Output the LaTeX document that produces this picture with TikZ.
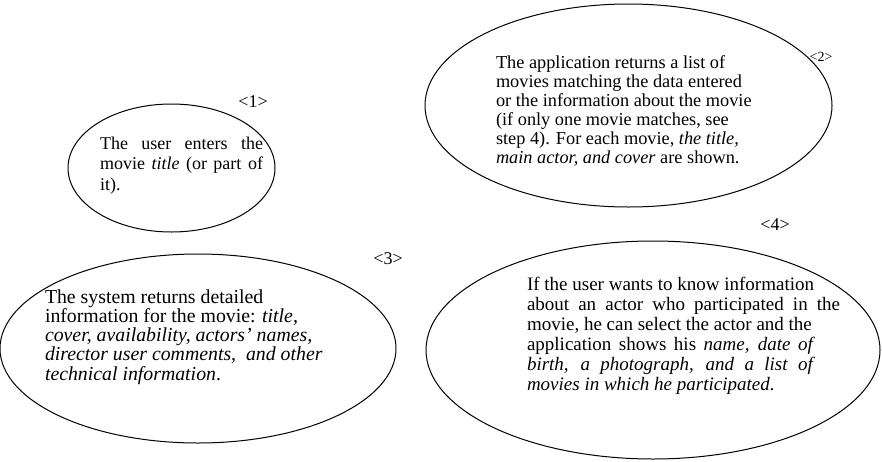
\documentclass[tikz,border=0pt]{standalone}
\usepackage{fontspec}
\setmainfont{Liberation Serif}
\usetikzlibrary{shapes.geometric}
\begin{document}
\begin{tikzpicture}[x=1pt,y=-1pt,
  ell/.style={draw=black, line width=1pt, ellipse, inner sep=0pt, outer sep=0pt},
  txt/.style={anchor=north west, inner sep=0pt, outer sep=0pt},
  lbl/.style={inner sep=0pt, font=\fontsize{18}{20}\selectfont}]
\useasboundingbox (0,0) rectangle (882,461);
% ellipses
\node[ell, minimum width=207pt, minimum height=128pt] (e1) at (171.5,168) {};
\node[ell, minimum width=407pt, minimum height=203pt] (e2) at (628.5,105.5) {};
\node[ell, minimum width=396pt, minimum height=189pt] (e3) at (198,348.5) {};
\node[ell, minimum width=454pt, minimum height=218pt] (e4) at (653,350) {};
% texts
\node[txt, text width=163pt, align=justify, font=\fontsize{18}{20.5}\selectfont] (t1) at (100,136.7)
  {The user enters the\linebreak movie \textit{title} (or part of\linebreak it).};
\node[txt, align=left, font=\fontsize{18.3}{19}\selectfont] (t2) at (496,55.5)
  {The application returns a list of\\
   movies matching the data entered\\
   or the information about the movie\\
   (if only one movie matches, see\\
   step 4). For each movie, \textit{the title,}\\
   \textit{main actor, and cover} are shown.};
\node[txt, align=left, font=\fontsize{19.8}{19.25}\selectfont] (t3) at (45,289.5)
  {The system returns detailed\\
   information for the movie: \textit{title,}\\
   \textit{cover, availability, actors' names,}\\
   \textit{director user comments,\ \ and other}\\
   \textit{technical information}.};
\node[txt, align=left, font=\fontsize{19}{20}\selectfont] (t4) at (527,277.5)
  {If the user wants to know information\\
   \makebox[313pt][s]{about an actor who participated in the}\\
   movie, he can select the actor and the\\
   \makebox[288pt][s]{application shows his \textit{name, date of}}\\
   \makebox[288pt][s]{\textit{birth, a photograph, and a list of}}\\
   \textit{movies in which he participated}.};
% labels
\node[lbl] (l1) at (253,102) {<1>};
\node[lbl, font=\fontsize{14}{16}\selectfont] (l2) at (821,57) {<2>};
\node[lbl] (l3) at (388,259) {<3>};
\node[lbl] (l4) at (775,225) {<4>};
\end{tikzpicture}
\end{document}
